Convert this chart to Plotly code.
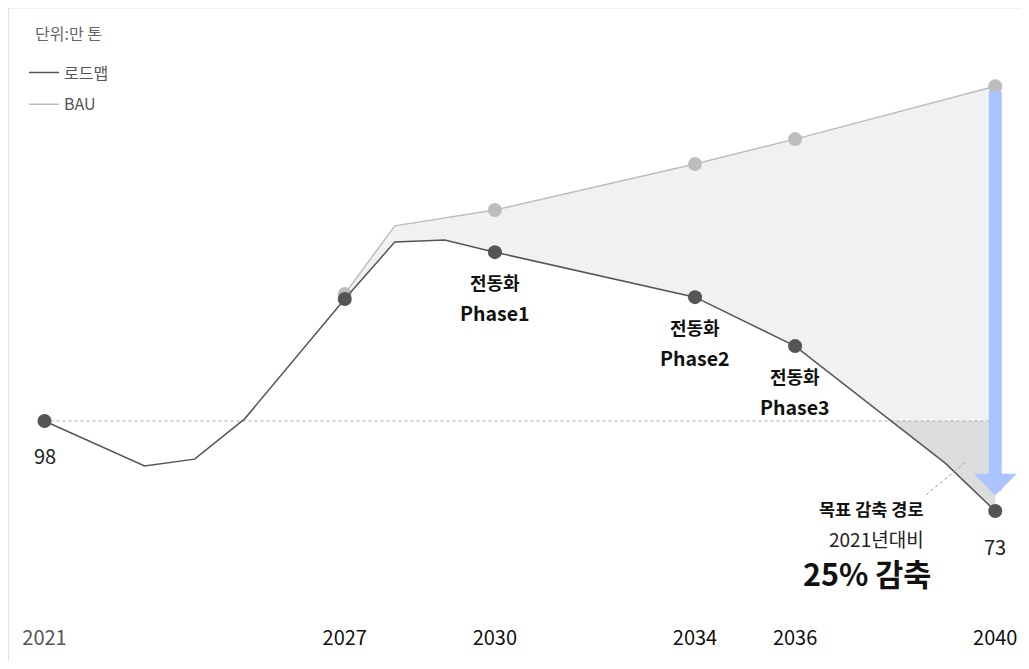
import plotly.graph_objects as go

# ---- data ----
road_years = [2021, 2023, 2024, 2025, 2027, 2028, 2029, 2030, 2034, 2036, 2039, 2040]
road_vals = [98, 85.5, 87.4, 98.6, 131.9, 147.7, 148.3, 144.9, 132.4, 118.8, 86.3, 73]
road_marker_years = [2021, 2027, 2030, 2034, 2036, 2040]

bau_years = [2027, 2028, 2030, 2034, 2036, 2040]
bau_vals = [133.3, 152.2, 156.6, 169.4, 176.3, 191]
bau_marker_years = [2027, 2030, 2034, 2036, 2040]

tick_years = [2021, 2027, 2030, 2034, 2036, 2040]
base_value = 98
target_value = 73
phase_names = ["Phase1", "Phase2", "Phase3"]
phase_years = [2030, 2034, 2036]

KFONT = "Noto Sans CJK KR"
ROAD_C = "#555555"
BAU_C = "#bdbdbd"

# page geometry (browser body has 8px margin)
OFF = 8
W, H = 1029 - 2 * OFF, 669 - 2 * OFF
B = 37
PH = H - B


def px(page_x):
    return (page_x - OFF) / W


def py(page_y):
    return 1 - (page_y - OFF) / PH


road = dict(zip(road_years, road_vals))
bau = dict(zip(bau_years, bau_vals))

fig = go.Figure()

# fill between roadmap (from 2027) and BAU
r_x = [y for y in road_years if y >= bau_years[0]]
r_y = [road[y] for y in r_x]
fig.add_trace(go.Scatter(x=r_x, y=r_y, mode="lines", line=dict(width=0),
                         showlegend=False, hoverinfo="skip"))
fig.add_trace(go.Scatter(x=bau_years, y=bau_vals, mode="lines", line=dict(width=0),
                         fill="tonexty", fillcolor="#f0f2f1", showlegend=False, hoverinfo="skip"))

# darker region below baseline (between baseline and roadmap at the end)
poly_x, poly_y = [], []
for i in range(1, len(road_years)):
    x0, y0 = road_years[i - 1], road_vals[i - 1]
    x1, y1 = road_years[i], road_vals[i]
    if x0 >= 2030 and y0 >= base_value > y1:
        t = (y0 - base_value) / (y0 - y1)
        poly_x.append(x0 + t * (x1 - x0)); poly_y.append(base_value)
    if x1 >= 2030 and y1 < base_value:
        poly_x.append(x1); poly_y.append(y1)
poly_x.append(road_years[-1]); poly_y.append(base_value)
poly_x.append(poly_x[0]); poly_y.append(poly_y[0])
fig.add_trace(go.Scatter(x=poly_x, y=poly_y, mode="lines", line=dict(width=0),
                         fill="toself", fillcolor="#dcdedd", showlegend=False, hoverinfo="skip"))

# baseline dashed
fig.add_trace(go.Scatter(x=[road_years[0], road_years[-1]], y=[base_value, base_value], mode="lines",
                         line=dict(color="#aaaaaa", width=1, dash="3px,3px"),
                         showlegend=False, hoverinfo="skip"))

# BAU line & markers
fig.add_trace(go.Scatter(x=bau_years, y=bau_vals, mode="lines", name="BAU",
                         line=dict(color=BAU_C, width=1.5), legendrank=2, legendgroup="b"))
fig.add_trace(go.Scatter(x=bau_marker_years, y=[bau[y] for y in bau_marker_years], mode="markers",
                         marker=dict(color=BAU_C, size=14), showlegend=False, hoverinfo="skip"))

# Roadmap line & markers
fig.add_trace(go.Scatter(x=road_years, y=road_vals, mode="lines", name="로드맵",
                         line=dict(color=ROAD_C, width=1.5), legendrank=1, legendgroup="a"))
fig.add_trace(go.Scatter(x=road_marker_years, y=[road[y] for y in road_marker_years], mode="markers",
                         marker=dict(color=ROAD_C, size=14), showlegend=False, hoverinfo="skip"))

# blue arrow BAU -> target
fig.add_annotation(x=road_years[-1], y=target_value + 4.4, ax=bau_years[-1], ay=bau_vals[-1] - 1,
                   xref="x", yref="y", axref="x", ayref="y", showarrow=True, text="",
                   arrowhead=1, arrowwidth=13, arrowsize=0.55, arrowcolor="#abc4ff")

# leader dashed line
fig.add_shape(type="line", x0=2038.62, y0=77.5, x1=2039.4, y1=86.5, xref="x", yref="y",
              line=dict(color="#999999", width=1, dash="3px,3px"))

# value labels
fig.add_annotation(x=road_years[0], y=base_value, text=str(base_value), showarrow=False,
                   yshift=-34, font=dict(family=KFONT, size=20, color="#222"))
fig.add_annotation(x=road_years[-1], y=target_value, text=str(target_value), showarrow=False,
                   yshift=-35, font=dict(family=KFONT, size=20, color="#222"))

for name, yr in zip(phase_names, phase_years):
    fig.add_annotation(x=yr, y=road[yr], text="<b>전동화</b>", showarrow=False,
                       yshift=-30, font=dict(family=KFONT, size=18, color="#111"))
    fig.add_annotation(x=yr, y=road[yr], text="<b>" + name + "</b>", showarrow=False,
                       yshift=-60, font=dict(family=KFONT, size=19.5, color="#111"))

fig.add_annotation(x=px(926), y=py(508), xref="paper", yref="paper", text="<b>목표 감축 경로</b>",
                   showarrow=False, xanchor="right", yanchor="middle",
                   font=dict(family=KFONT, size=17.5, color="#111"))
fig.add_annotation(x=px(926), y=py(538), xref="paper", yref="paper", text="2021년대비",
                   showarrow=False, xanchor="right", yanchor="middle",
                   font=dict(family=KFONT, size=19, color="#222"))
fig.add_annotation(x=px(933), y=py(573), xref="paper", yref="paper", text="<b>25% 감축</b>",
                   showarrow=False, xanchor="right", yanchor="middle",
                   font=dict(family=KFONT, size=30.5, color="#111"))

fig.add_annotation(x=px(33), y=py(33), xref="paper", yref="paper", text="단위:만 톤",
                   showarrow=False, xanchor="left", yanchor="middle",
                   font=dict(family=KFONT, size=16, color="#666"))

# frame (top and left edges)
fig.add_shape(type="line", xref="paper", yref="paper", x0=0, x1=1, y0=1 + 0.5 / PH,
              y1=1 + 0.5 / PH, line=dict(color="#e3e3e3", width=2))
fig.add_shape(type="line", xref="paper", yref="paper", x0=0, x1=0, y0=-B / PH, y1=1,
              line=dict(color="#e3e3e3", width=2))

# axes mapping (fitted to reference pixel positions)
ppy = 50.04
x_lo = 2021 - (44.5 - OFF) / ppy
x_hi = x_lo + W / ppy
ppu = 3.6
y_top = 98 + (421 - OFF) / ppu
y_bot = 98 - (PH - (421 - OFF)) / ppu

ticktext = []
for y in tick_years:
    if y == tick_years[0]:
        ticktext.append('<span style="color:#555">%d</span>' % y)
    else:
        ticktext.append(str(y))

fig.update_layout(
    width=W, height=H,
    margin=dict(l=0, r=0, t=0, b=B),
    plot_bgcolor="white", paper_bgcolor="white",
    font=dict(family=KFONT),
    xaxis=dict(range=[x_lo, x_hi], showgrid=False, zeroline=False, showline=False,
               tickmode="array", tickvals=tick_years, ticktext=ticktext, ticks="",
               tickfont=dict(family=KFONT, size=20, color="#111")),
    yaxis=dict(range=[y_bot, y_top], showgrid=False, zeroline=False, showline=False,
               showticklabels=False),
    legend=dict(x=px(24), y=1 - (55.5 - OFF) / PH, xanchor="left", yanchor="top",
                font=dict(family=KFONT, size=16, color="#555"), itemwidth=30,
                tracegroupgap=8, bgcolor="rgba(0,0,0,0)"),
    showlegend=True,
)

fig.write_html("out.html")
